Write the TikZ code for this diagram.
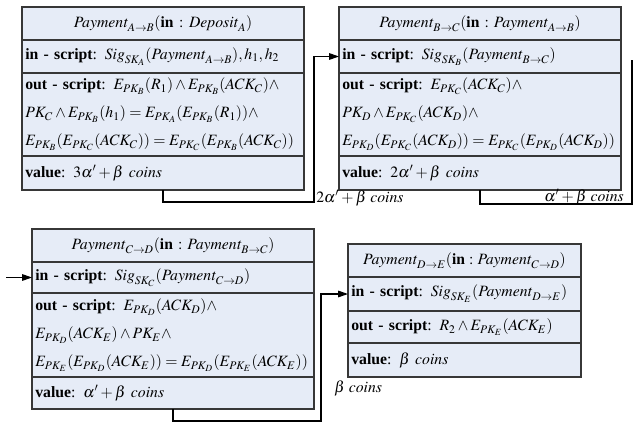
\documentclass[tikz,border=0pt]{standalone}
\usepackage{mathptmx}
\usepackage{fontspec}
\setmainfont{Liberation Serif}
\usetikzlibrary{arrows.meta,positioning,calc}
\definecolor{boxfill}{RGB}{230,236,247}
\definecolor{boxline}{RGB}{55,55,55}
\newcommand{\paym}[1]{\mathit{Payment}_{#1}}

\begin{document}
\begin{tikzpicture}[x=0.75pt,y=-0.75pt,
    cell/.style={draw=boxline, line width=1pt, fill=boxfill, inner xsep=2.5pt, inner ysep=0pt,
      outer sep=0pt, text width=#1, align=left, font=\fontsize{11.8}{21}\selectfont},
    head/.style={cell=#1, align=center},
    link/.style={line width=0.8pt},
    tip/.style={-{Triangle[length=7.5pt,width=5pt]}},
    lbl/.style={inner sep=0pt, font=\fontsize{11.8}{13}\selectfont}]
    \useasboundingbox (0,0) rectangle (636,422);

    % Payment A -> B
    \node[head=206.5pt, minimum height=24.75pt] (pab-title) at (163,23.5)
      {$\paym{A\to B}(\mathbf{in}:\mathit{Deposit}_A)$};
    \node[cell=206.5pt, minimum height=24.75pt, below=0pt of pab-title] (pab-in)
      {\textbf{in - script}: $\mathit{Sig}_{SK_A}(\paym{A\to B}),h_1,h_2$};
    \node[cell=206.5pt, minimum height=62.25pt, below=0pt of pab-in] (pab-out)
      {\textbf{out - script}: $E_{PK_B}(R_1)\wedge E_{PK_B}(ACK_C)\wedge$\\
       $PK_C\wedge E_{PK_B}(h_1)=E_{PK_A}(E_{PK_B}(R_1))\wedge$\\
       $E_{PK_B}(E_{PK_C}(ACK_C))=E_{PK_C}(E_{PK_B}(ACK_C))$};
    \node[cell=206.5pt, minimum height=25.5pt, below=0pt of pab-out] (pab-value)
      {\textbf{value}: $3\alpha'+\beta\ \mathit{coins}$};

    % Payment B -> C
    \node[head=206.5pt, minimum height=24.75pt] (pbc-title) at (480,23.5)
      {$\paym{B\to C}(\mathbf{in}:\paym{A\to B})$};
    \node[cell=206.5pt, minimum height=24.75pt, below=0pt of pbc-title] (pbc-in)
      {\textbf{in - script}: $\mathit{Sig}_{SK_B}(\paym{B\to C})$};
    \node[cell=206.5pt, minimum height=62.25pt, below=0pt of pbc-in] (pbc-out)
      {\textbf{out - script}: $E_{PK_C}(ACK_C)\wedge$\\
       $PK_D\wedge E_{PK_C}(ACK_D)\wedge$\\
       $E_{PK_D}(E_{PK_C}(ACK_D))=E_{PK_C}(E_{PK_D}(ACK_D))$};
    \node[cell=206.5pt, minimum height=25.5pt, below=0pt of pbc-out] (pbc-value)
      {\textbf{value}: $2\alpha'+\beta\ \mathit{coins}$};

    % Payment C -> D
    \node[head=206.5pt, minimum height=24.75pt] (pcd-title) at (173,245.5)
      {$\paym{C\to D}(\mathbf{in}:\paym{B\to C})$};
    \node[cell=206.5pt, minimum height=23.25pt, below=0pt of pcd-title] (pcd-in)
      {\textbf{in - script}: $\mathit{Sig}_{SK_C}(\paym{C\to D})$};
    \node[cell=206.5pt, minimum height=63pt, below=0pt of pcd-in] (pcd-out)
      {\textbf{out - script}: $E_{PK_D}(ACK_D)\wedge$\\
       $E_{PK_D}(ACK_E)\wedge PK_E\wedge$\\
       $E_{PK_E}(E_{PK_D}(ACK_E))=E_{PK_D}(E_{PK_E}(ACK_E))$};
    \node[cell=206.5pt, minimum height=24pt, below=0pt of pcd-out] (pcd-value)
      {\textbf{value}: $\alpha'+\beta\ \mathit{coins}$};

    % Payment D -> E
    \node[head=169.75pt, minimum height=24.75pt] (pde-title) at (464.5,260.5)
      {$\paym{D\to E}(\mathbf{in}:\paym{C\to D})$};
    \node[cell=169.75pt, minimum height=25.5pt, below=0pt of pde-title] (pde-in)
      {\textbf{in - script}: $\mathit{Sig}_{SK_E}(\paym{D\to E})$};
    \node[cell=169.75pt, minimum height=24pt, below=0pt of pde-in] (pde-out)
      {\textbf{out - script}: $R_2\wedge E_{PK_E}(ACK_E)$};
    \node[cell=169.75pt, minimum height=25.5pt, below=0pt of pde-out] (pde-value)
      {\textbf{value}: $\beta\ \mathit{coins}$};

    % connectors
    \coordinate (c1) at (314,202);
    \coordinate (c2) at (632,204);
    \coordinate (c2end) at (632,60);
    \coordinate (c3) at (6,277.5);
    \coordinate (c4) at (321,421);
    \draw[link, tip] (pab-value.south) |- (c1) |- (pbc-in.west);
    \draw[link] (pbc-value.south) |- (c2) -- (c2end);
    \draw[link, tip] (c3) -- (pcd-in.west);
    \draw[link, tip] (pcd-value.south) |- (c4) |- (pde-in.west);

    % amounts
    \node[lbl, anchor=west] (amt-bc) at (316,198) {$2\alpha'+\beta\ \mathit{coins}$};
    \node[lbl, anchor=east] (amt-cd) at (624,197) {$\alpha'+\beta\ \mathit{coins}$};
    \node[lbl, anchor=west] (amt-de) at (334,388) {$\beta\ \mathit{coins}$};
\end{tikzpicture}
\end{document}
